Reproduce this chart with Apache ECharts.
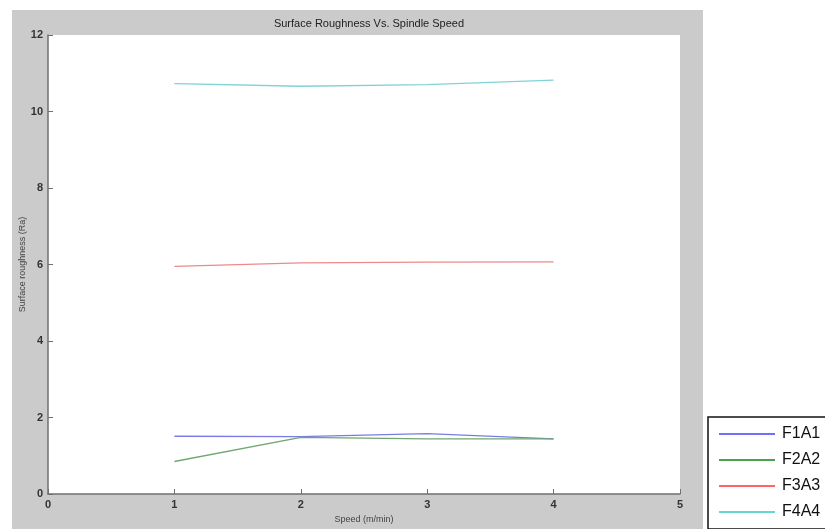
<!DOCTYPE html>
<html>
<head>
<meta charset="utf-8">
<style>
  html, body { margin: 0; padding: 0; background: #ffffff; }
  #chart { width: 825px; height: 529px; }
</style>
<script src="https://cdn.jsdelivr.net/npm/echarts@6/dist/echarts.min.js"></script>
</head>
<body>
<div id="chart"></div>
<script>
// Spindle speed (m/min) on the x axis
const speeds = [1, 2, 3, 4];

// Surface roughness Ra for each feed / depth combination
const f1a1 = [1.51, 1.50, 1.58, 1.44];
const f2a2 = [0.85, 1.48, 1.44, 1.44];
const f3a3 = [5.95, 6.04, 6.06, 6.07];
const f4a4 = [10.73, 10.66, 10.70, 10.82];

const seriesNames = ['F1A1', 'F2A2', 'F3A3', 'F4A4'];
const seriesValues = [f1a1, f2a2, f3a3, f4a4];
const plotColors = ['#7b7be6', '#70a870', '#ee8a8a', '#80d2d6'];
const legendColors = ['#4040ff', '#128012', '#ff3030', '#30c8c8'];

const font = 'Liberation Sans, Arial, Helvetica, sans-serif';

const chart = echarts.init(document.getElementById('chart'), null, { renderer: 'canvas' });

const series = seriesNames.map((name, i) => ({
  name: name,
  type: 'line',
  data: speeds.map((s, j) => [s, seriesValues[i][j]]),
  symbol: 'none',
  smooth: false,
  lineStyle: { color: plotColors[i], width: 1.3 },
  itemStyle: { color: plotColors[i] },
  z: 3
}));

chart.setOption({
  animation: false,
  backgroundColor: '#ffffff',
  graphic: [
    {
      type: 'rect',
      z: -10,
      silent: true,
      shape: { x: 12, y: 10, width: 691, height: 519 },
      style: { fill: '#cbcbcb' }
    }
  ],
  title: {
    text: 'Surface Roughness Vs. Spindle Speed',
    left: 364,
    top: 13,
    textAlign: 'center',
    textStyle: { fontFamily: font, fontSize: 11, fontWeight: 'normal', color: '#222222' }
  },
  grid: {
    left: 48,
    right: 145,
    top: 35,
    bottom: 32,
    show: true,
    backgroundColor: '#ffffff',
    borderWidth: 0
  },
  legend: {
    orient: 'vertical',
    left: 708,
    top: 417,
    height: 100,
    padding: [9, 12, 9, 11],
    itemWidth: 56,
    itemHeight: 14,
    itemGap: 10,
    backgroundColor: '#ffffff',
    borderColor: '#111111',
    borderWidth: 1.5,
    borderRadius: 0,
    textStyle: { fontFamily: font, fontSize: 16, color: '#111111', padding: [0, 0, 0, 2] },
    data: seriesNames.map((name, i) => ({
      name: name,
      icon: 'path://M0,0 L56,0 L56,1.6 L0,1.6 Z',
      itemStyle: { color: legendColors[i] }
    }))
  },
  xAxis: {
    type: 'value',
    min: 0,
    max: 5,
    interval: 1,
    name: 'Speed (m/min)',
    nameLocation: 'middle',
    nameGap: 21,
    nameMoveOverlap: false,
    nameTextStyle: { fontFamily: font, fontSize: 9, color: '#444444' },
    axisLine: { show: true, lineStyle: { color: '#707070', width: 1.5 } },
    axisTick: { show: true, inside: true, length: 5, lineStyle: { color: '#707070' } },
    axisLabel: { fontFamily: font, fontSize: 11, fontWeight: 'bold', color: '#333333', margin: 5 },
    splitLine: { show: false }
  },
  yAxis: {
    type: 'value',
    min: 0,
    max: 12,
    interval: 2,
    name: 'Surface roughness (Ra)',
    nameLocation: 'middle',
    nameGap: 21,
    nameMoveOverlap: false,
    nameTextStyle: { fontFamily: font, fontSize: 9, color: '#444444' },
    axisLine: { show: true, lineStyle: { color: '#707070', width: 1.5 } },
    axisTick: { show: true, inside: true, length: 5, lineStyle: { color: '#707070' } },
    axisLabel: { fontFamily: font, fontSize: 11, fontWeight: 'bold', color: '#333333', margin: 5 },
    splitLine: { show: false }
  },
  series: series
});
</script>
</body>
</html>
